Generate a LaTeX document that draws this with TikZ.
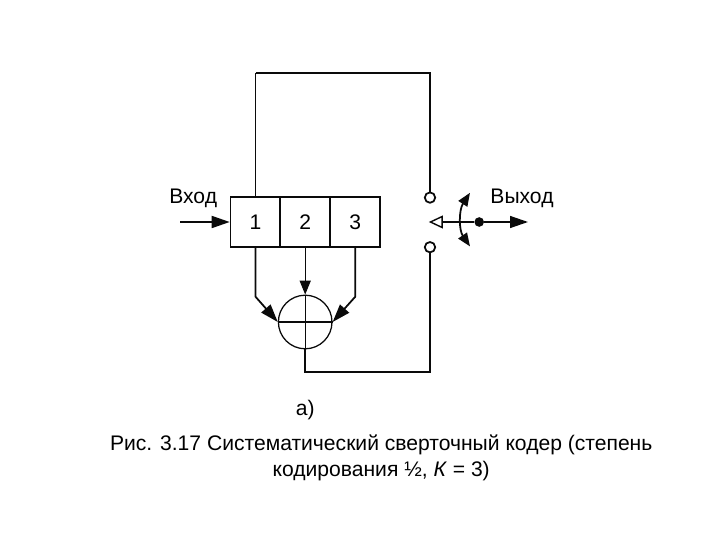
\documentclass[tikz,border=0pt]{standalone}
\usepackage{fontspec}
\setmainfont{Liberation Sans}
\usetikzlibrary{arrows.meta}
\definecolor{linecolor}{RGB}{10, 10, 10}
\begin{document}
\begin{tikzpicture}[
        wire/.style={draw=linecolor, line width=1.25pt},
        thinwire/.style={draw=linecolor, line width=0.7pt},
        solidarrow/.style={-{Triangle[length=0.45cm, width=0.3cm]}},
        cell/.style={draw=linecolor, line width=1.25pt, minimum width=1.25cm, minimum height=1.25cm, inner sep=0pt, font=\fontsize{15}{17}\selectfont},
        adder/.style={draw=linecolor, line width=0.9pt, circle, minimum size=1.34cm, inner sep=0pt},
        terminal/.style={draw=linecolor, line width=1.25pt, circle, fill=white, minimum size=0.26cm, inner sep=0pt},
        dot/.style={fill=linecolor, circle, minimum size=0.24cm, inner sep=0pt},
        label/.style={font=\fontsize{15}{19}\selectfont, inner sep=0pt, align=center}
      ]
        \useasboundingbox (0,0) rectangle (18,13.5);
        % shift register
        \node[cell] (cellone) at (6.39,7.95) {1};
        \node[cell] (celltwo) at (7.63,7.95) {2};
        \node[cell] (cellthree) at (8.88,7.95) {3};
        \node[adder] (sum) at (7.63,5.45) {};
        \draw[thinwire, line width=0.9pt] (sum.west) -- (sum.east);
        \draw[thinwire, line width=0.9pt] (sum.north) -- (sum.south);
        % switch
        \node[terminal] (termtop) at (10.75,8.56) {};
        \node[terminal] (termbottom) at (10.75,7.32) {};
        \node[dot] (pivot) at (11.98,7.95) {};
        \coordinate (contact) at (10.72,7.95);
        \coordinate (input) at (4.5,7.95);
        \coordinate (output) at (13.2,7.95);
        \coordinate (swingtop) at (11.75,8.68);
        \coordinate (swingbottom) at (11.75,7.34);
        \coordinate (corner) at (6.39,11.68);
        % connectors
        \draw[wire, solidarrow] (input) -- (cellone.west);
        \draw[thinwire, line width=0.8pt] (cellone.north) -- (corner);
        \draw[wire] (corner) -- (10.75,11.68) -- (termtop.north);
        \draw[wire] (sum.south) -- (7.63,4.2) -- (10.75,4.2) -- (termbottom.south);
        \draw[wire, solidarrow] (cellone.south) -- (6.39,6.08) -- (sum.west);
        \draw[wire, solidarrow] (cellthree.south) -- (8.88,6.08) -- (sum.east);
        \draw[thinwire, -{Triangle[length=0.35cm, width=0.28cm]}] (celltwo.south) -- (sum.north);
        \draw[wire, line width=1pt, {Triangle[open, length=0.35cm, width=0.32cm]}-] (contact) -- (pivot);
        \draw[wire, line width=1pt, solidarrow] (pivot) -- (output);
        \draw[wire, {Triangle[length=0.33cm, width=0.26cm]}-{Triangle[length=0.33cm, width=0.26cm]}] (swingtop) .. controls (11.47,8.25) and (11.47,7.75) .. (swingbottom);
        % labels
        \node[label] (inputlabel) at (4.83,8.53) {Вход};
        \node[label] (outputlabel) at (13.05,8.53) {Выход};
        \node[label] (sublabel) at (7.63,3.25) {а)};
        \node[label] (caption) at (9.53,2.05) {Рис. 3.17 Систематический сверточный кодер (степень\\кодирования ½, \textit{К} = 3)};
      \end{tikzpicture}
\end{document}
